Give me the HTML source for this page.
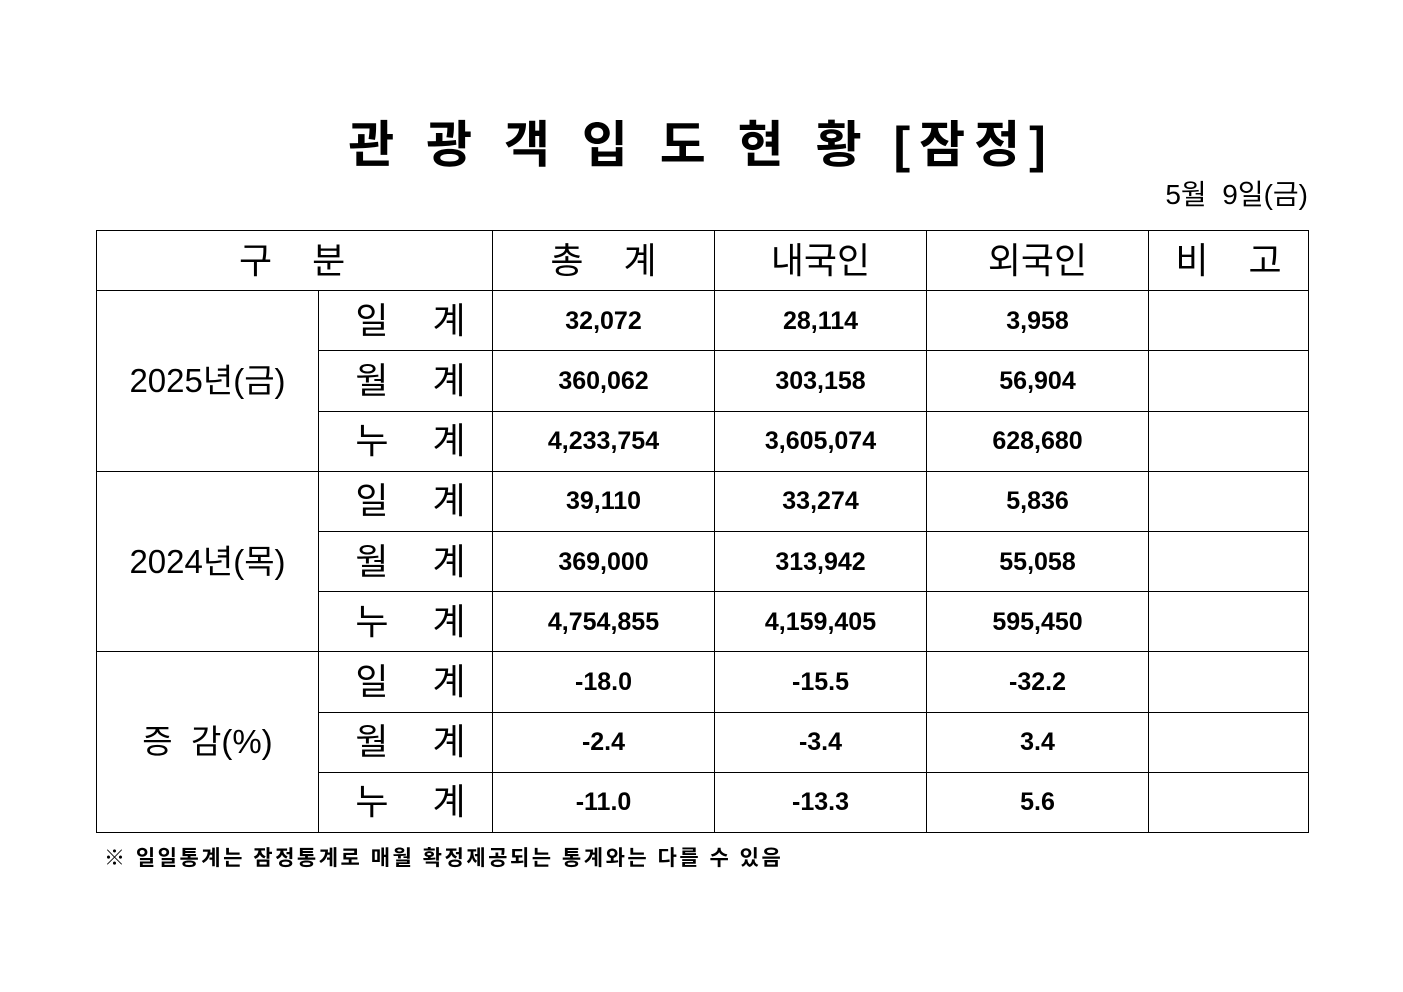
<!DOCTYPE html>
<html><head><meta charset="utf-8"><style>
body{margin:0;width:1403px;height:992px;background:#fff;position:relative;font-family:"Liberation Sans","Noto Sans CJK KR",sans-serif;color:#000;overflow:hidden}
.title{position:absolute;left:0;width:1403px;top:112px;text-align:center;font-size:50px;font-weight:bold;letter-spacing:9px;line-height:66px;white-space:nowrap}
.date{position:absolute;right:95px;top:177px;font-size:28px;line-height:36px}
table{position:absolute;left:96px;top:230px;border-collapse:collapse;table-layout:fixed}
td{border:1.3px solid #000;text-align:center;padding:0;height:59.2px;line-height:40px;white-space:nowrap;overflow:hidden}
.h{font-size:36px}
.lab{font-size:36px;letter-spacing:8px;padding-left:18px}
.yr{font-size:33px}
.n{font-size:25px;font-weight:bold}
.note{position:absolute;left:104px;top:842px;font-size:21px;font-weight:bold;letter-spacing:2.5px;white-space:nowrap}
</style></head><body>
<div class="title">관 광 객 입 도 현 황 [잠정]</div>
<div class="date">5월&nbsp; 9일(금)</div>
<table>
<colgroup><col style="width:222px"><col style="width:174px"><col style="width:222px"><col style="width:212px"><col style="width:222px"><col style="width:160px"></colgroup>
<tr><td colspan="2" class="h" style="text-align:left;padding-left:142px">구&nbsp;&nbsp;&nbsp;&nbsp;분</td><td class="h">총&nbsp;&nbsp;&nbsp;&nbsp;계</td><td class="h">내국인</td><td class="h">외국인</td><td class="h">비&nbsp;&nbsp;&nbsp;&nbsp;고</td></tr>
<tr><td rowspan="3" class="yr">2025년(금)</td><td class="lab">일&nbsp; 계</td><td class="n">32,072</td><td class="n">28,114</td><td class="n">3,958</td><td></td></tr>
<tr><td class="lab">월&nbsp; 계</td><td class="n">360,062</td><td class="n">303,158</td><td class="n">56,904</td><td></td></tr>
<tr><td class="lab">누&nbsp; 계</td><td class="n">4,233,754</td><td class="n">3,605,074</td><td class="n">628,680</td><td></td></tr>
<tr><td rowspan="3" class="yr">2024년(목)</td><td class="lab">일&nbsp; 계</td><td class="n">39,110</td><td class="n">33,274</td><td class="n">5,836</td><td></td></tr>
<tr><td class="lab">월&nbsp; 계</td><td class="n">369,000</td><td class="n">313,942</td><td class="n">55,058</td><td></td></tr>
<tr><td class="lab">누&nbsp; 계</td><td class="n">4,754,855</td><td class="n">4,159,405</td><td class="n">595,450</td><td></td></tr>
<tr><td rowspan="3" class="yr">증&nbsp; 감(%)</td><td class="lab">일&nbsp; 계</td><td class="n">-18.0</td><td class="n">-15.5</td><td class="n">-32.2</td><td></td></tr>
<tr><td class="lab">월&nbsp; 계</td><td class="n">-2.4</td><td class="n">-3.4</td><td class="n">3.4</td><td></td></tr>
<tr><td class="lab">누&nbsp; 계</td><td class="n">-11.0</td><td class="n">-13.3</td><td class="n">5.6</td><td></td></tr>
</table>
<div class="note">※ 일일통계는 잠정통계로 매월 확정제공되는 통계와는 다를 수 있음</div>
</body></html>
